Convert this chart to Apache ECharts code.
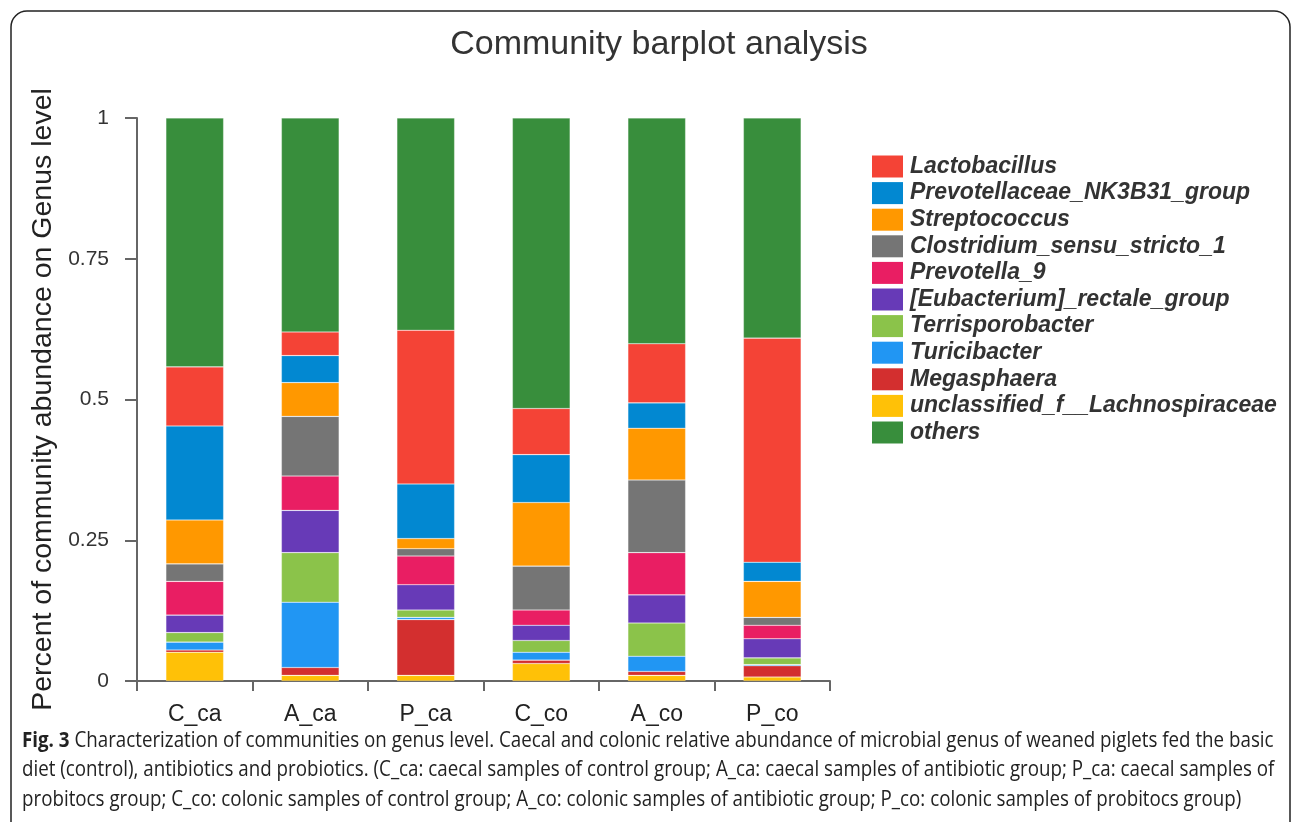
<!DOCTYPE html>
<html>
<head>
<meta charset="utf-8">
<script src="https://cdn.jsdelivr.net/npm/echarts@6/dist/echarts.min.js"></script>
<style>
  html, body { margin: 0; padding: 0; background: #fff; }
  #chart { width: 1293px; height: 822px; }
</style>
</head>
<body>
<div id="chart"></div>
<script>
// Sample groups on the x axis
const groups = ['C_ca', 'A_ca', 'P_ca', 'C_co', 'A_co', 'P_co'];

// Relative abundance per genus (one value per group, same order as groups)
const lactobacillus   = [0.105, 0.042, 0.273, 0.082, 0.105, 0.398];
const prevotellaceae  = [0.167, 0.048, 0.097, 0.085, 0.045, 0.034];
const streptococcus   = [0.078, 0.060, 0.018, 0.113, 0.092, 0.064];
const clostridium     = [0.031, 0.106, 0.013, 0.078, 0.129, 0.014];
const prevotella9     = [0.060, 0.061, 0.051, 0.027, 0.075, 0.024];
const eubacterium     = [0.031, 0.075, 0.045, 0.027, 0.050, 0.034];
const terrisporobacter= [0.017, 0.088, 0.013, 0.021, 0.059, 0.012];
const turicibacter    = [0.014, 0.116, 0.004, 0.014, 0.027, 0.002];
const megasphaera     = [0.004, 0.014, 0.099, 0.006, 0.007, 0.020];
const lachnospiraceae = [0.051, 0.010, 0.010, 0.031, 0.010, 0.007];
const others          = [0.442, 0.380, 0.377, 0.516, 0.401, 0.391];

// Y axis ticks
const yTicks = [0, 0.25, 0.5, 0.75, 1];

// Legend order (top to bottom)
const genusNames = [
  'Lactobacillus', 'Prevotellaceae_NK3B31_group', 'Streptococcus',
  'Clostridium_sensu_stricto_1', 'Prevotella_9', '[Eubacterium]_rectale_group',
  'Terrisporobacter', 'Turicibacter', 'Megasphaera',
  'unclassified_f__Lachnospiraceae', 'others'
];

// Stack order, bottom first
const stackOrder = [
  ['unclassified_f__Lachnospiraceae', lachnospiraceae, '#FFC107'],
  ['Megasphaera', megasphaera, '#D32F2F'],
  ['Turicibacter', turicibacter, '#2196F3'],
  ['Terrisporobacter', terrisporobacter, '#8BC34A'],
  ['[Eubacterium]_rectale_group', eubacterium, '#673AB7'],
  ['Prevotella_9', prevotella9, '#E91E63'],
  ['Clostridium_sensu_stricto_1', clostridium, '#757575'],
  ['Streptococcus', streptococcus, '#FF9800'],
  ['Prevotellaceae_NK3B31_group', prevotellaceae, '#0288D1'],
  ['Lactobacillus', lactobacillus, '#F44336'],
  ['others', others, '#388E3C']
];

const captionLines = [
  '{b|Fig. 3} Characterization of communities on genus level. Caecal and colonic relative abundance of microbial genus of weaned piglets fed the basic',
  'diet (control), antibiotics and probiotics. (C_ca: caecal samples of control group; A_ca: caecal samples of antibiotic group; P_ca: caecal samples of',
  'probitocs group; C_co: colonic samples of control group; A_co: colonic samples of antibiotic group; P_co: colonic samples of probitocs group)'
];

const chart = echarts.init(document.getElementById('chart'), null, { renderer: 'canvas' });

const sansFont = '"Liberation Sans", Arimo, Arial, sans-serif';
const captionFont = '"Open Sans", "Noto Sans", sans-serif';

const series = stackOrder.map(([name, values, color]) => ({
  name: name,
  type: 'bar',
  stack: 'abundance',
  barWidth: '50%',
  data: values,
  itemStyle: { color: color, borderColor: 'rgba(255,255,255,0.35)', borderWidth: 0.6 },
  emphasis: { disabled: true }
}));

const colorByName = {};
stackOrder.forEach(([n, , c]) => { colorByName[n] = c; });

chart.setOption({
  animation: false,
  backgroundColor: '#ffffff',
  color: genusNames.map(n => colorByName[n]),
  title: {
    text: 'Community barplot analysis',
    left: 654,
    textAlign: 'center',
    top: 23,
    textStyle: { fontFamily: sansFont, fontSize: 34, fontWeight: 'normal', color: '#333' }
  },
  legend: {
    orient: 'vertical',
    left: 867,
    top: 150,
    itemWidth: 31,
    itemHeight: 22,
    itemGap: 3.6,
    icon: 'rect',
    data: genusNames,
    selectedMode: false,
    itemStyle: { borderWidth: 0 },
    textStyle: {
      fontFamily: sansFont, fontSize: 23, lineHeight: 22, fontStyle: 'italic', fontWeight: 'bold',
      color: '#333', padding: [0, 0, 0, 2]
    }
  },
  grid: { left: 137, right: 463, top: 118, bottom: 141, containLabel: false },
  xAxis: {
    type: 'category',
    data: groups,
    boundaryGap: true,
    axisLine: { lineStyle: { color: '#666', width: 2 } },
    axisTick: { show: true, length: 10, lineStyle: { color: '#666', width: 2 } },
    axisLabel: { fontFamily: sansFont, fontSize: 23, color: '#222', margin: 22 }
  },
  yAxis: {
    type: 'value',
    min: 0,
    max: 1,
    interval: 0.25,
    name: 'Percent of community abundance on Genus level',
    nameLocation: 'middle',
    nameGap: 79,
    nameTextStyle: { fontFamily: sansFont, fontSize: 28.5, color: '#222' },
    axisLine: { show: true, lineStyle: { color: '#666', width: 2 } },
    axisTick: { show: true, length: 12, lineStyle: { color: '#666', width: 2 } },
    splitLine: { show: false },
    axisLabel: {
      fontFamily: sansFont, fontSize: 21, color: '#333', margin: 28,
      formatter: v => (yTicks.indexOf(v) >= 0 ? String(v) : '')
    }
  },
  series: series,
  graphic: [
    {
      type: 'rect',
      silent: true,
      shape: { x: 11, y: 11, width: 1279, height: 840, r: 16 },
      style: { fill: 'none', stroke: '#222', lineWidth: 1.5 }
    }
  ].concat(captionLines.map((line, i) => ({
    type: 'text',
    silent: true,
    x: 22,
    y: 730.5 + i * 29.5,
    scaleX: 0.893,
    style: {
      text: line,
      font: '21px ' + captionFont,
      fill: '#222',
      rich: {
        b: { fontFamily: captionFont, fontSize: 21, fontWeight: 'bold', fill: '#222' }
      }
    }
  })))
});
</script>
</body>
</html>
